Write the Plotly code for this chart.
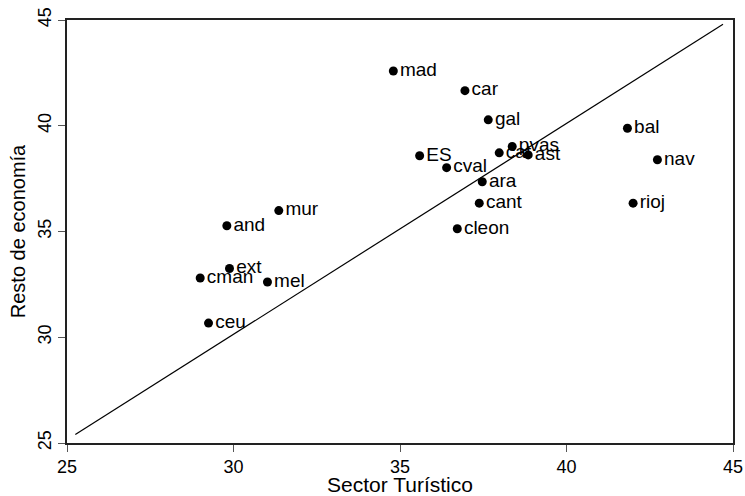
import plotly.graph_objects as go

# Comunidades autonomas: sector turistico vs resto de economia
regiones = ["mad", "car", "gal", "pvas", "cat", "ast", "ES", "cval", "ara", "cant",
            "cleon", "mur", "and", "ext", "cman", "mel", "ceu", "bal", "nav", "rioj"]
sector_turistico = [34.80, 36.95, 37.65, 38.37, 37.98, 38.85, 35.59, 36.40, 37.47, 37.38,
                    36.72, 31.36, 29.80, 29.88, 29.00, 31.02, 29.25, 41.83, 42.73, 42.00]
resto_economia = [42.59, 41.66, 40.28, 39.02, 38.72, 38.62, 38.58, 38.02, 37.35, 36.34,
                  35.13, 35.99, 35.27, 33.25, 32.80, 32.61, 30.67, 39.88, 38.39, 36.34]

# recta de referencia
linea_x = [25.25, 44.7]
linea_y = [25.4, 44.8]

fig = go.Figure()
fig.add_trace(go.Scatter(x=linea_x, y=linea_y, mode="lines",
                         line=dict(color="black", width=1.2), hoverinfo="skip"))
fig.add_trace(go.Scatter(x=sector_turistico, y=resto_economia, mode="markers+text",
                         text=regiones, textposition="middle right",
                         textfont=dict(family="Liberation Sans, Arial", size=19, color="black"),
                         marker=dict(color="black", size=9)))

axis_style = dict(range=[25, 45], dtick=5, showgrid=False, zeroline=False,
                  showline=True, linecolor="#222", linewidth=1.5, mirror=True,
                  ticks="outside", ticklen=7, tickcolor="#555", automargin=False,
                  ticklabeloverflow="allow",
                  tickfont=dict(family="Liberation Sans, Arial", size=18, color="black"))

fig.update_xaxes(**axis_style,
                 title=dict(text="Sector Turístico", standoff=0,
                            font=dict(family="Liberation Sans Narrow, Liberation Sans", size=21, color="black")))
fig.update_yaxes(**axis_style, tickangle=-90,
                 title=dict(text="Resto de economía", standoff=4,
                            font=dict(family="Liberation Sans, Arial", size=20, color="black")))

fig.update_layout(width=745, height=496, showlegend=False,
                  plot_bgcolor="white", paper_bgcolor="white",
                  margin=dict(l=67, r=12, t=20, b=53))

# quitar el margen por defecto del body para que la figura ocupe toda la ventana
fig.write_html("out.html", config={"displayModeBar": False},
               post_script="document.body.style.margin='0';document.body.style.overflow='hidden';")
